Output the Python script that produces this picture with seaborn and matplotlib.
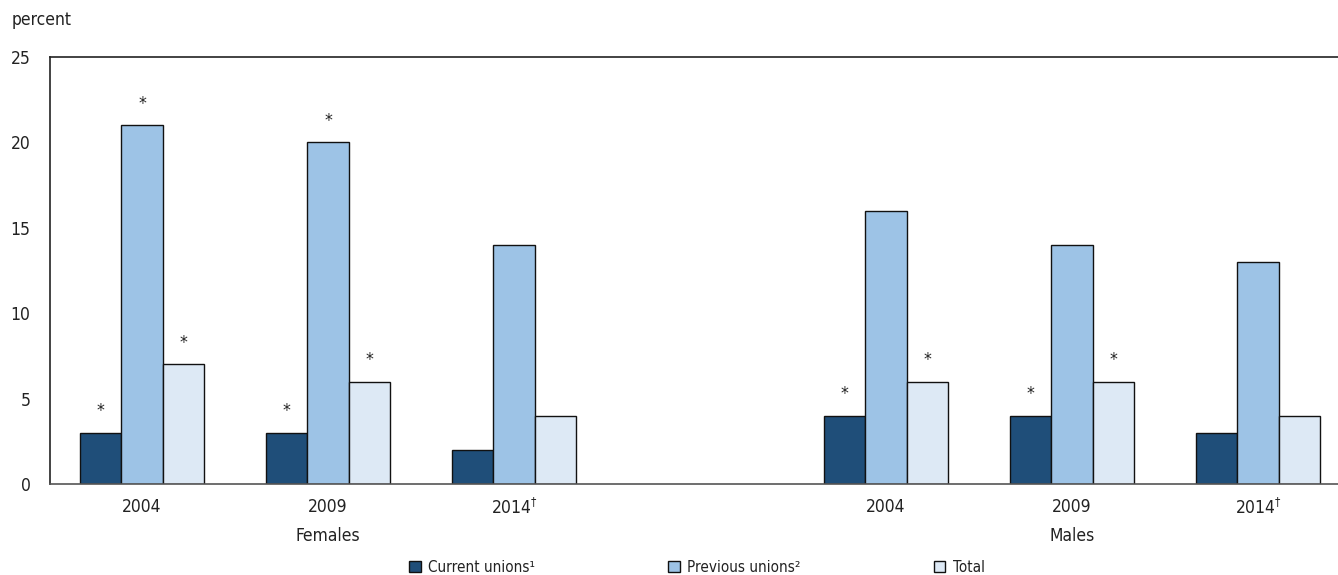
import matplotlib
matplotlib.use("Agg")
import matplotlib.pyplot as plt
from matplotlib import font_manager
import seaborn as sns
import pandas as pd
from matplotlib.patches import Patch

sns.set_theme(style="white")

# prefer a narrow sans face for the labels
installed = {(f.name, f.stretch) for f in font_manager.fontManager.ttflist}
names = {n for n, _ in installed}
if "Liberation Sans Narrow" in names:
    plt.rcParams["font.family"] = ["Liberation Sans Narrow", "DejaVu Sans"]
    base = 13
elif ("DejaVu Sans", "condensed") in installed:
    plt.rcParams["font.family"] = ["DejaVu Sans"]
    plt.rcParams["font.stretch"] = "condensed"
    base = 12.5
else:
    plt.rcParams["font.family"] = ["Roboto", "DejaVu Sans"]
    base = 12.5

# Data
slots = ["F2004", "F2009", "F2014", "gap", "M2004", "M2009", "M2014"]
year_labels = ["2004", "2009", "2014$^{\\dagger}$", "", "2004", "2009", "2014$^{\\dagger}$"]
groups = [("Females", 1), ("Males", 5)]
series = ["Current unions\u00b9", "Previous unions\u00b2", "Total"]
bar_slots = ["F2004", "F2009", "F2014", "M2004", "M2009", "M2014"]
current = [3, 3, 2, 4, 4, 3]
previous = [21, 20, 14, 16, 14, 13]
total = [7, 6, 4, 6, 6, 4]
# significance markers (True = asterisk)
sig_current = [True, True, False, True, True, False]
sig_previous = [True, True, False, False, False, False]
sig_total = [True, True, False, True, True, False]

colors = ["#1f4e79", "#9dc3e6", "#dde9f5"]
text_color = "#222222"

rows = []
for vals, sigs, name in [(current, sig_current, series[0]),
                         (previous, sig_previous, series[1]),
                         (total, sig_total, series[2])]:
    for s, v, g in zip(bar_slots, vals, sigs):
        rows.append({"slot": s, "series": name, "value": v, "sig": g})
df = pd.DataFrame(rows)

fig = plt.figure(figsize=(13.38, 5.75), dpi=100)
ax = fig.add_axes([50 / 1338, 1 - 484 / 575, 1 - 50 / 1338, (484 - 57) / 575])

sns.barplot(data=df, x="slot", y="value", hue="series", order=slots,
            hue_order=series, palette=colors, width=2 / 3, dodge=True,
            edgecolor="#111111", linewidth=1.0, saturation=1, ax=ax,
            legend=False, errorbar=None)

# asterisks above significant bars
for container, name in zip(ax.containers, series):
    sub = df[df["series"] == name].set_index("slot")
    present = [s for s in slots if s in sub.index]
    for rect, s in zip(container, present):
        if sub.loc[s, "sig"]:
            x = rect.get_x() + rect.get_width() / 2
            ax.text(x, rect.get_height() + 0.75, "*", ha="center", va="bottom",
                    fontsize=base, color=text_color)

ax.set_ylim(0, 25)
ax.set_yticks([0, 5, 10, 15, 20, 25])
ax.set_xlim(-0.495, 6.43)
ax.set_xticks(range(len(slots)))
ax.set_xticklabels(year_labels)
ax.tick_params(axis="both", length=0, labelsize=base, colors=text_color, pad=10)
ax.tick_params(axis="y", pad=14)
ax.set_xlabel("")
ax.set_ylabel("")

for side in ["left", "top"]:
    ax.spines[side].set_color("#222222")
    ax.spines[side].set_linewidth(1.2)
ax.spines["bottom"].set_color("#555555")
ax.spines["bottom"].set_linewidth(1.2)
ax.spines["right"].set_visible(False)

for label, pos in groups:
    ax.annotate(label, xy=(pos, 0), xycoords=("data", "axes fraction"),
                xytext=(0, -43), textcoords="offset pixels", ha="center",
                va="top", fontsize=base, color=text_color)

fig.text(12 / 1338, 1 - 20 / 575, "percent", ha="left", va="center",
         fontsize=base, color=text_color)

handles = [Patch(facecolor=c, edgecolor="#111111", linewidth=1.0) for c in colors]
fig.legend(handles, series, loc="center", bbox_to_anchor=(0.521, 1 - 567 / 575),
           ncol=3, frameon=False, fontsize=base - 1.5, handlelength=0.75,
           handleheight=0.75, handletextpad=0.5, columnspacing=8.7,
           labelcolor=text_color)

fig.savefig("out.png", dpi=100)
